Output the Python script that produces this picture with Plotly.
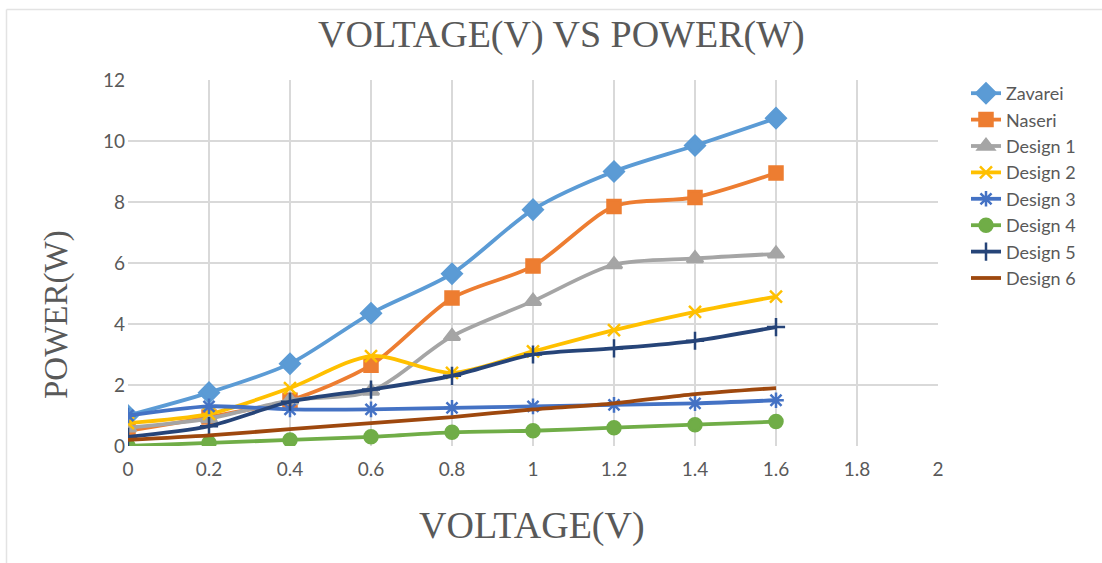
import plotly.graph_objects as go

# Voltage sweep (V) and measured power (W) per design
voltage = [0, 0.2, 0.4, 0.6, 0.8, 1.0, 1.2, 1.4, 1.6]
zavarei = [1.0, 1.75, 2.7, 4.35, 5.65, 7.75, 9.0, 9.85, 10.75]
naseri = [0.5, 0.95, 1.5, 2.65, 4.85, 5.9, 7.85, 8.15, 8.95]
design1 = [0.6, 0.9, 1.5, 1.8, 3.6, 4.75, 5.95, 6.15, 6.3]
design2 = [0.75, 1.05, 1.9, 2.95, 2.4, 3.1, 3.8, 4.4, 4.9]
design3 = [1.0, 1.3, 1.2, 1.2, 1.25, 1.3, 1.35, 1.4, 1.5]
design4 = [0.0, 0.1, 0.2, 0.3, 0.45, 0.5, 0.6, 0.7, 0.8]
design5 = [0.3, 0.65, 1.45, 1.85, 2.3, 3.0, 3.2, 3.45, 3.9]
design6 = [0.2, 0.35, 0.55, 0.75, 0.95, 1.2, 1.4, 1.7, 1.9]

x_ticks = [0, 0.2, 0.4, 0.6, 0.8, 1, 1.2, 1.4, 1.6, 1.8, 2]
x_tick_text = ["0", "0.2", "0.4", "0.6", "0.8", "1", "1.2", "1.4", "1.6", "1.8", "2"]

series = [
    ("Zavarei", zavarei, "#5B9BD5", "diamond", 15),
    ("Naseri", naseri, "#ED7D31", "square", 13),
    ("Design 1", design1, "#A5A5A5", "triangle-up", 14),
    ("Design 2", design2, "#FFC000", "x-thin", 12),
    ("Design 3", design3, "#4472C4", "asterisk", 13),
    ("Design 4", design4, "#70AD47", "circle", 13),
    ("Design 5", design5, "#264478", "cross-thin", 13),
    ("Design 6", design6, "#9E480E", None, 0),
]

fig = go.Figure()
for name, vals, color, symbol, size in series:
    mode = "lines+markers" if symbol else "lines"
    marker = dict(color=color, symbol=symbol, size=size,
                  line=dict(color=color, width=2.5)) if symbol else None
    fig.add_trace(go.Scatter(
        x=voltage, y=vals, name=name, mode=mode,
        line=dict(color=color, width=3.8, shape="spline", smoothing=0.8),
        marker=marker,
    ))

grid = "#D9D9D9"
txt = "#595959"
serif = "Liberation Serif"

fig.update_layout(
    width=1102, height=563,
    margin=dict(l=128, r=164, t=80, b=117),
    paper_bgcolor="white", plot_bgcolor="white",
    showlegend=True,
    legend=dict(x=(966 - 128) / 810, y=1 + 5 / 366, xanchor="left", yanchor="top",
                font=dict(family="Lato", size=18, color=txt),
                bgcolor="rgba(0,0,0,0)", tracegroupgap=0),
    xaxis=dict(range=[0, 2], tickvals=x_ticks, ticktext=x_tick_text,
               showgrid=True, gridcolor=grid, gridwidth=1.5, zeroline=False,
               showline=False, ticks="", ticklabelstandoff=10,
               tickfont=dict(family="Lato", size=19, color=txt)),
    yaxis=dict(range=[0, 12], dtick=2, showgrid=True, gridcolor=grid, gridwidth=1.5,
               zeroline=False, showline=False, ticks="", ticklabelstandoff=2,
               tickfont=dict(family="Lato", size=19, color=txt)),
    annotations=[
        dict(text="VOLTAGE(V) VS POWER(W)", xref="paper", yref="paper",
             x=(561 - 128) / 810, y=1 + (80 - 35) / 366, xanchor="center", yanchor="middle",
             showarrow=False, font=dict(family=serif, size=38, color=txt)),
        dict(text="VOLTAGE(V)", xref="paper", yref="paper",
             x=(532 - 128) / 810, y=-(525 - 446) / 366, xanchor="center", yanchor="middle",
             showarrow=False, font=dict(family=serif, size=38, color=txt)),
        dict(text="POWER(W)", xref="paper", yref="paper", textangle=-90,
             x=-(128 - 56) / 810, y=(446 - 315) / 366, xanchor="center", yanchor="middle",
             showarrow=False, font=dict(family=serif, size=33, color=txt)),
    ],
    shapes=[
        dict(type="line", xref="paper", yref="paper",
             x0=-(128 - 6.5) / 810, x1=-(128 - 6.5) / 810,
             y0=1 + (80 - 9.5) / 366, y1=-(570 - 446) / 366,
             line=dict(color="#E3E3E3", width=1.5)),
        dict(type="line", xref="paper", yref="paper",
             x0=-(128 - 6.5) / 810, x1=(1110 - 128) / 810,
             y0=1 + (80 - 9.5) / 366, y1=1 + (80 - 9.5) / 366,
             line=dict(color="#E3E3E3", width=1.5)),
    ],
)

fig.write_html("out.html")
